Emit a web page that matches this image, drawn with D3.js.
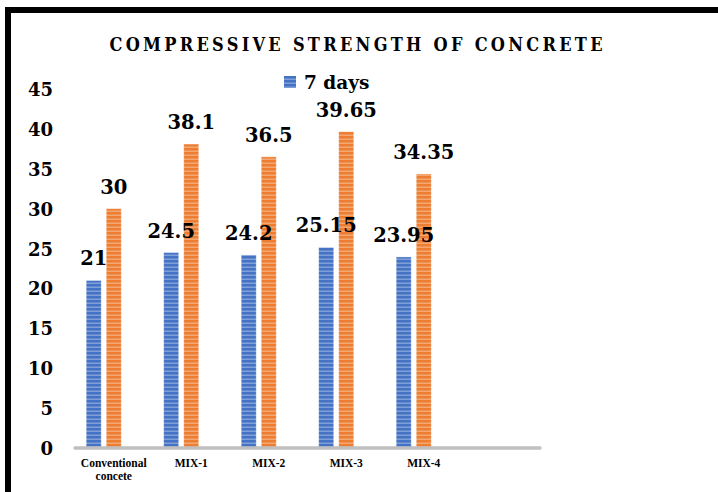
<!DOCTYPE html>
<html>
<head>
<meta charset="utf-8">
<script src="https://cdn.jsdelivr.net/npm/d3@7"></script>
<style>
  html, body { margin: 0; padding: 0; background: #fff; }
  svg { display: block; }
</style>
</head>
<body>
<svg id="chart" width="718" height="492"></svg>
<script>
// Compressive strength (MPa) per mix
const categories = ["Conventional concete", "MIX-1", "MIX-2", "MIX-3", "MIX-4"];
const sevenDays = [21, 24.5, 24.2, 25.15, 23.95];
const twentyEightDays = [30, 38.1, 36.5, 39.65, 34.35];
const seriesNames = ["7 days", "28 days"];
const seriesColors = ["#4472c4", "#ed7d31"];
const yTicks = [0, 5, 10, 15, 20, 25, 30, 35, 40, 45];
const title = "COMPRESSIVE STRENGTH OF CONCRETE";

const svg = d3.select("#chart");
const W = 718, H = 492;

svg.append("rect").attr("width", W).attr("height", H).attr("fill", "#fff");

// Frame (open to the right and bottom)
svg.append("path")
  .attr("d", `M8,${H + 5} L8,10 L${W + 5},10`)
  .attr("fill", "none")
  .attr("stroke", "#000")
  .attr("stroke-width", 6);

// Striped fills
const defs = svg.append("defs");
seriesColors.forEach((c, i) => {
  const p = defs.append("pattern")
    .attr("id", "stripe" + i)
    .attr("patternUnits", "userSpaceOnUse")
    .attr("width", 8).attr("height", 4);
  p.append("rect").attr("width", 8).attr("height", 4).attr("fill", c);
  p.append("rect").attr("y", 2.5).attr("width", 8).attr("height", 1.5)
    .attr("fill", "#fff").attr("opacity", 0.32);
});

// Six category slots along the axis; the last one is left empty
const slots = categories.concat([""]);
const x0 = d3.scaleBand()
  .domain(slots)
  .range([75, 540])
  .paddingInner(0.224)
  .paddingOuter(0.112);

// Three bar positions per group; the first two hold the series
const x1 = d3.scaleBand()
  .domain(d3.range(3))
  .range([0, x0.bandwidth()])
  .paddingInner(0.25)
  .paddingOuter(0.125);

const y = d3.scaleLinear().domain([0, 45]).range([448, 89]);

const serifBold = "'DejaVu Serif', serif";
const condensed = "'DejaVu Serif Condensed', 'DejaVu Serif', serif";

// Y axis labels
const yAxis = d3.axisLeft(y).tickValues(yTicks).tickSize(0).tickPadding(0);
const gy = svg.append("g").attr("transform", "translate(53,0)").call(yAxis);
gy.select(".domain").remove();
gy.selectAll("text")
  .attr("font-family", serifBold)
  .attr("font-weight", "bold")
  .attr("font-size", 18)
  .attr("fill", "#000")
  .attr("dy", "0.36em");

// Category labels
const xAxis = d3.axisBottom(x0).tickSize(0).tickPadding(0);
const gx = svg.append("g").call(xAxis);
gx.select(".domain").remove();
gx.selectAll("text").each(function(d) {
  const t = d3.select(this).text(null)
    .attr("font-family", "'Liberation Serif', serif")
    .attr("font-weight", "bold")
    .attr("font-size", 11.5)
    .attr("fill", "#000")
    .attr("y", 467)
    .attr("dy", null);
  const words = d.split(" ");
  const lines = words.length > 1 ? [words[0], words.slice(1).join(" ")] : [d];
  lines.forEach((ln, i) => {
    t.append("tspan").attr("x", 0).attr("dy", i === 0 ? 0 : 12.5).text(ln);
  });
});

// Bars
const seriesValues = [sevenDays, twentyEightDays];
seriesValues.forEach((vals, s) => {
  svg.append("g").selectAll("rect")
    .data(categories.map((c, i) => ({ c, v: vals[i] })))
    .join("rect")
    .attr("x", d => x0(d.c) + x1(s))
    .attr("width", x1.bandwidth())
    .attr("y", d => y(d.v))
    .attr("height", d => y(0) - y(d.v))
    .attr("fill", `url(#stripe${s})`)
    .attr("stroke", "#fff")
    .attr("stroke-opacity", 0.45)
    .attr("stroke-width", 0.8);
});

// Axis line
svg.append("line")
  .attr("x1", x0.range()[0]).attr("x2", x0.range()[1])
  .attr("y1", y(0)).attr("y2", y(0))
  .attr("stroke", "#bfbfbf")
  .attr("stroke-width", 3.5)
  .attr("stroke-linecap", "round");

// Value labels
seriesValues.forEach((vals, s) => {
  svg.append("g").selectAll("text")
    .data(categories.map((c, i) => ({ c, v: vals[i] })))
    .join("text")
    .attr("x", d => x0(d.c) + x1(s) + x1.bandwidth() / 2)
    .attr("y", d => y(d.v) - 15)
    .attr("text-anchor", "middle")
    .attr("font-family", serifBold)
    .attr("font-weight", "bold")
    .attr("font-size", 19.5)
    .attr("fill", "#000")
    .text(d => d.v);
});

// Title
svg.append("text")
  .attr("x", 356).attr("y", 51)
  .attr("text-anchor", "middle")
  .attr("font-family", condensed)
  .attr("font-stretch", "condensed")
  .attr("font-weight", "bold")
  .attr("font-size", 18)
  .attr("fill", "#000")
  .attr("textLength", 493)
  .attr("lengthAdjust", "spacing")
  .text(title);

// Legend
const lg = svg.append("g").attr("transform", "translate(284,76)");
lg.append("rect").attr("width", 12).attr("height", 12).attr("fill", "url(#stripe0)");
lg.append("text")
  .attr("x", 20).attr("y", 12.5)
  .attr("font-family", serifBold)
  .attr("font-weight", "bold")
  .attr("font-size", 18.5)
  .attr("fill", "#000")
  .text(seriesNames[0]);
</script>
</body>
</html>
